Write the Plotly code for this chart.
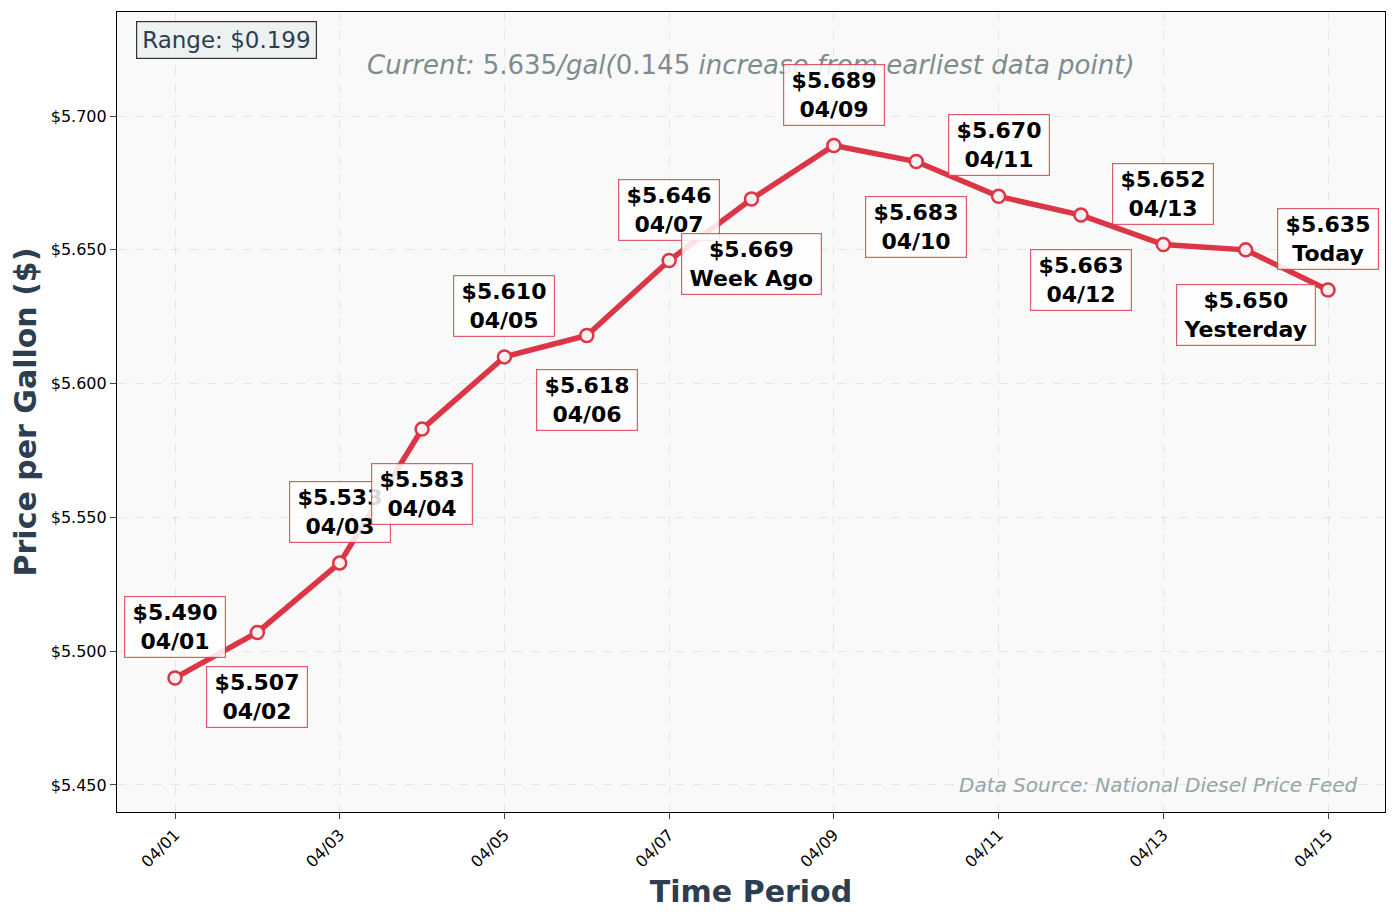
import pandas as pd
import plotly.graph_objects as go

# diesel price per gallon, daily
dates = ["2024-04-01", "2024-04-02", "2024-04-03", "2024-04-04", "2024-04-05",
         "2024-04-06", "2024-04-07", "2024-04-08", "2024-04-09", "2024-04-10",
         "2024-04-11", "2024-04-12", "2024-04-13", "2024-04-14", "2024-04-15"]
prices = [5.490, 5.507, 5.533, 5.583, 5.610, 5.618, 5.646, 5.669, 5.689, 5.683,
          5.670, 5.663, 5.652, 5.650, 5.635]
point_names = ["04/01", "04/02", "04/03", "04/04", "04/05", "04/06", "04/07", "Week Ago",
               "04/09", "04/10", "04/11", "04/12", "04/13", "Yesterday", "Today"]
y_ticks = [5.450, 5.500, 5.550, 5.600, 5.650, 5.700]

red = "#dc3545"
dark = "#2c3e50"
x = pd.to_datetime(dates)

fig = go.Figure()
fig.add_trace(go.Scatter(
    x=x, y=prices, mode="lines+markers",
    line=dict(color=red, width=5.5),
    marker=dict(size=13, color="#fdf0f1", line=dict(color=red, width=2.5)),
    showlegend=False, hoverinfo="x+y",
))

rng = max(prices) - min(prices)
change = prices[-1] - prices[0]
# subtitle goes first so the point labels sit on top of it
fig.add_annotation(
    xref="paper", yref="paper", x=0.5, y=0.934, yanchor="middle",
    text=f"<i>Current: </i>{prices[-1]:.3f}<i>/gal(</i>{change:.3f}<i> increase from earliest data point)</i>",
    showarrow=False, font=dict(family="DejaVu Sans", size=26, color="#7f8c8d"),
)
fig.add_annotation(
    xref="paper", yref="paper", x=0.015, y=0.989, xanchor="left", yanchor="top",
    text=f"Range: ${rng:.3f}", showarrow=False,
    font=dict(family="DejaVu Sans", size=23, color=dark),
    bgcolor="rgba(236,240,241,0.9)", bordercolor="#333333", borderwidth=1.2, borderpad=5,
)
fig.add_annotation(
    xref="paper", yref="paper", x=0.980, y=0.034, xanchor="right", yanchor="middle",
    text="<i>Data Source: National Diesel Price Feed</i>", showarrow=False,
    font=dict(family="DejaVu Sans", size=20, color="#95a5a6"),
)

# labels alternate above / below the points
sp = "\u2009"
for i, (d, p, name) in enumerate(zip(x, prices, point_names)):
    above = i % 2 == 0
    fig.add_annotation(
        x=d, y=p, text=f"{sp}${p:.3f}{sp}<br>{sp}{name}{sp}", showarrow=False,
        yanchor="middle", yshift=51 if above else -65,
        font=dict(family="DejaVu Sans", size=22, color="black", weight="bold"),
        bgcolor="rgba(255,255,255,0.85)", bordercolor="rgba(220,53,69,0.8)",
        borderwidth=1.2, borderpad=3,
    )

x_lo = x[0] - pd.Timedelta(hours=16.9)
x_hi = x[-1] + pd.Timedelta(hours=16.6)

# page body has an 8px margin, so the figure is a bit smaller than the window
fig.update_layout(
    width=1381, height=902,
    margin=dict(l=109, r=4, t=4, b=98),
    paper_bgcolor="white", plot_bgcolor="#f9f9f9",
    font=dict(family="DejaVu Sans", color="black"),
    xaxis=dict(
        range=[x_lo, x_hi], tickformat="%m/%d", dtick=2 * 86400000, tick0=x[0],
        tickangle=-45, tickfont=dict(size=16), ticks="outside", ticklen=6,
        showline=True, linecolor="black", linewidth=1.2, mirror=True,
        showgrid=True, gridcolor="rgba(0,0,0,0.08)", griddash="dash", zeroline=False,
        title=dict(text="Time Period", font=dict(size=30, color=dark, weight="bold"), standoff=10),
    ),
    yaxis=dict(
        range=[5.4399, 5.7389], tickvals=y_ticks, ticktext=[f"${v:.3f}" for v in y_ticks],
        tickfont=dict(size=16), ticks="outside", ticklen=6,
        showline=True, linecolor="black", linewidth=1.2, mirror=True,
        showgrid=True, gridcolor="rgba(0,0,0,0.08)", griddash="dash", zeroline=False,
        title=dict(text="Price per Gallon ($)", font=dict(size=30, color=dark, weight="bold"), standoff=12),
    ),
)

fig.write_html("out.html")
